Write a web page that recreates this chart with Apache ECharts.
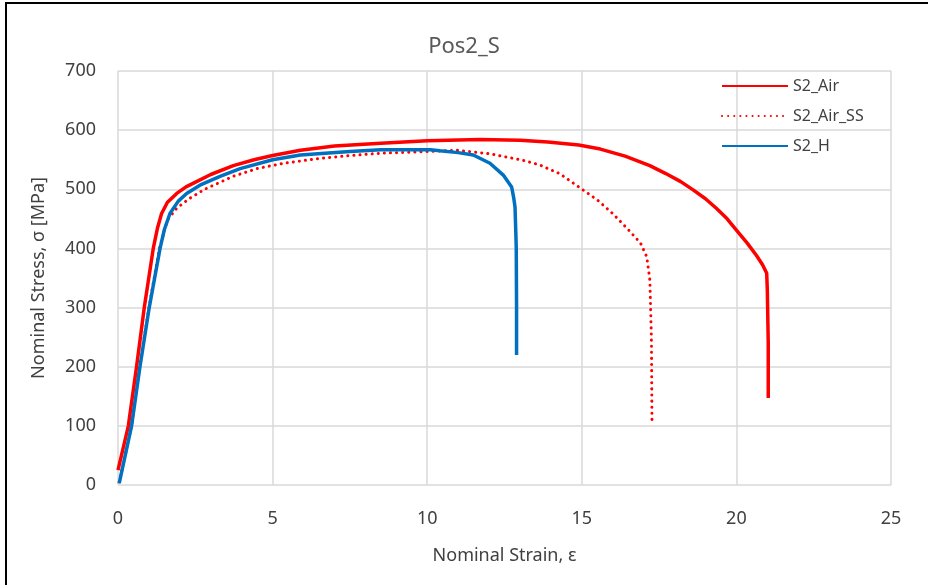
<!DOCTYPE html>
<html>
<head>
  <meta charset="utf-8" />
  <title>Pos2_S</title>
  <script src="https://cdn.jsdelivr.net/npm/echarts@6/dist/echarts.min.js"></script>
  <style>
    body { margin: 0; padding: 0; background: #fff; }
    #frame {
      position: absolute; left: 5px; top: 2px; right: 0; bottom: 0;
      border-left: 2px solid #000; border-top: 2px solid #000;
    }
    #chart { position: absolute; left: 0; top: 0; width: 928px; height: 585px; }
  </style>
</head>
<body>
  <div id="frame"></div>
  <div id="chart"></div>
  <script>
    // [strain, stress] pairs
    var s2Air = [
      [0, 25], [0.335, 100], [0.6, 200], [0.85, 300], [1.14, 400], [1.28, 435], [1.41, 459],
      [1.6, 478], [1.9, 493], [2.2, 504], [2.54, 513], [3.0, 525], [3.73, 540], [4.4, 550],
      [5.0, 557], [5.9, 566], [7.0, 573], [8.5, 578], [10, 582], [11.7, 584], [13, 583],
      [13.9, 580], [14.9, 575], [15.6, 568], [16.4, 556], [17.2, 540], [17.7, 527],
      [18.2, 513], [18.6, 499], [19.0, 484], [19.35, 468], [19.7, 450], [20.0, 431],
      [20.35, 409], [20.65, 388], [20.85, 372], [20.98, 358], [21.0, 330], [21.03, 240],
      [21.03, 147]
    ];
    var s2AirSS = [
      [0.04, 5], [0.44, 100], [0.7, 200], [1.0, 300], [1.34, 400], [1.6, 448], [1.9, 468],
      [2.3, 484], [2.8, 500], [3.73, 522], [4.5, 535], [5.35, 544], [6.5, 552], [7.5, 557],
      [8.5, 561], [10.1, 564], [10.95, 566], [12.03, 560], [13.1, 549], [13.65, 541],
      [14.3, 526], [14.9, 504], [15.5, 482], [16.0, 459], [16.5, 432], [16.9, 409],
      [17.1, 386], [17.2, 347], [17.25, 250], [17.27, 101]
    ];
    var s2H = [
      [0.04, 3], [0.44, 100], [0.71, 200], [1.01, 300], [1.36, 400], [1.5, 432], [1.68, 459],
      [1.95, 480], [2.22, 493], [2.65, 507], [3.3, 522], [3.95, 535], [5.0, 550], [5.9, 558],
      [7.5, 564], [8.5, 567], [10.1, 567], [10.41, 565], [11.0, 562], [11.49, 558],
      [12.03, 544], [12.46, 524], [12.73, 504], [12.8, 485], [12.84, 470], [12.87, 420],
      [12.88, 400], [12.89, 300], [12.89, 220]
    ];
    var seriesNames = ['S2_Air', 'S2_Air_SS', 'S2_H'];

    var font = 'Noto Sans';
    var txt = '#404040';
    var gridLine = { lineStyle: { color: '#d9d9d9', width: 1.5 } };

    var chart = echarts.init(document.getElementById('chart'), null, { devicePixelRatio: 1 });
    chart.setOption({
      backgroundColor: 'transparent',
      animation: false,
      title: {
        text: 'Pos2_S',
        left: 'center',
        top: 31,
        textStyle: { fontFamily: font, fontSize: 22, fontWeight: 'normal', color: '#595959' }
      },
      legend: {
        orient: 'vertical',
        left: 716,
        top: 73,
        itemWidth: 66,
        itemHeight: 14,
        itemGap: 14,
        itemStyle: { opacity: 0 },
        textStyle: { fontFamily: font, fontSize: 16, color: txt },
        data: seriesNames
      },
      grid: { left: 118, right: 37, top: 71, bottom: 100 },
      xAxis: {
        type: 'value',
        min: 0, max: 25, interval: 5,
        name: 'Nominal Strain, ε',
        nameLocation: 'middle',
        nameGap: 62,
        nameTextStyle: { fontFamily: font, fontSize: 18, color: txt },
        axisLine: { show: false },
        axisTick: { show: false },
        axisLabel: { fontFamily: font, fontSize: 18, color: txt, margin: 25 },
        splitLine: gridLine
      },
      yAxis: {
        type: 'value',
        min: 0, max: 700, interval: 100,
        name: 'Nominal Stress, σ [MPa]',
        nameLocation: 'middle',
        nameGap: 70,
        nameTextStyle: { fontFamily: font, fontSize: 18, color: txt },
        axisLine: { show: false },
        axisTick: { show: false },
        axisLabel: { fontFamily: font, fontSize: 18, color: txt, margin: 22 },
        splitLine: gridLine
      },
      series: [
        {
          name: seriesNames[0], type: 'line', data: s2Air, symbol: 'none',
          lineStyle: { color: '#ff0000', width: 3.5, join: 'round' }, itemStyle: { color: '#ff0000' }, z: 3
        },
        {
          name: seriesNames[1], type: 'line', data: s2AirSS, symbol: 'none',
          lineStyle: { color: '#ff0000', width: 3, type: [0.1, 6], cap: 'round' },
          itemStyle: { color: '#ff0000' }, z: 2
        },
        {
          name: seriesNames[2], type: 'line', data: s2H, symbol: 'none',
          lineStyle: { color: '#0070c0', width: 3.5, join: 'round' }, itemStyle: { color: '#0070c0' }, z: 4
        }
      ]
    });
  </script>
</body>
</html>
